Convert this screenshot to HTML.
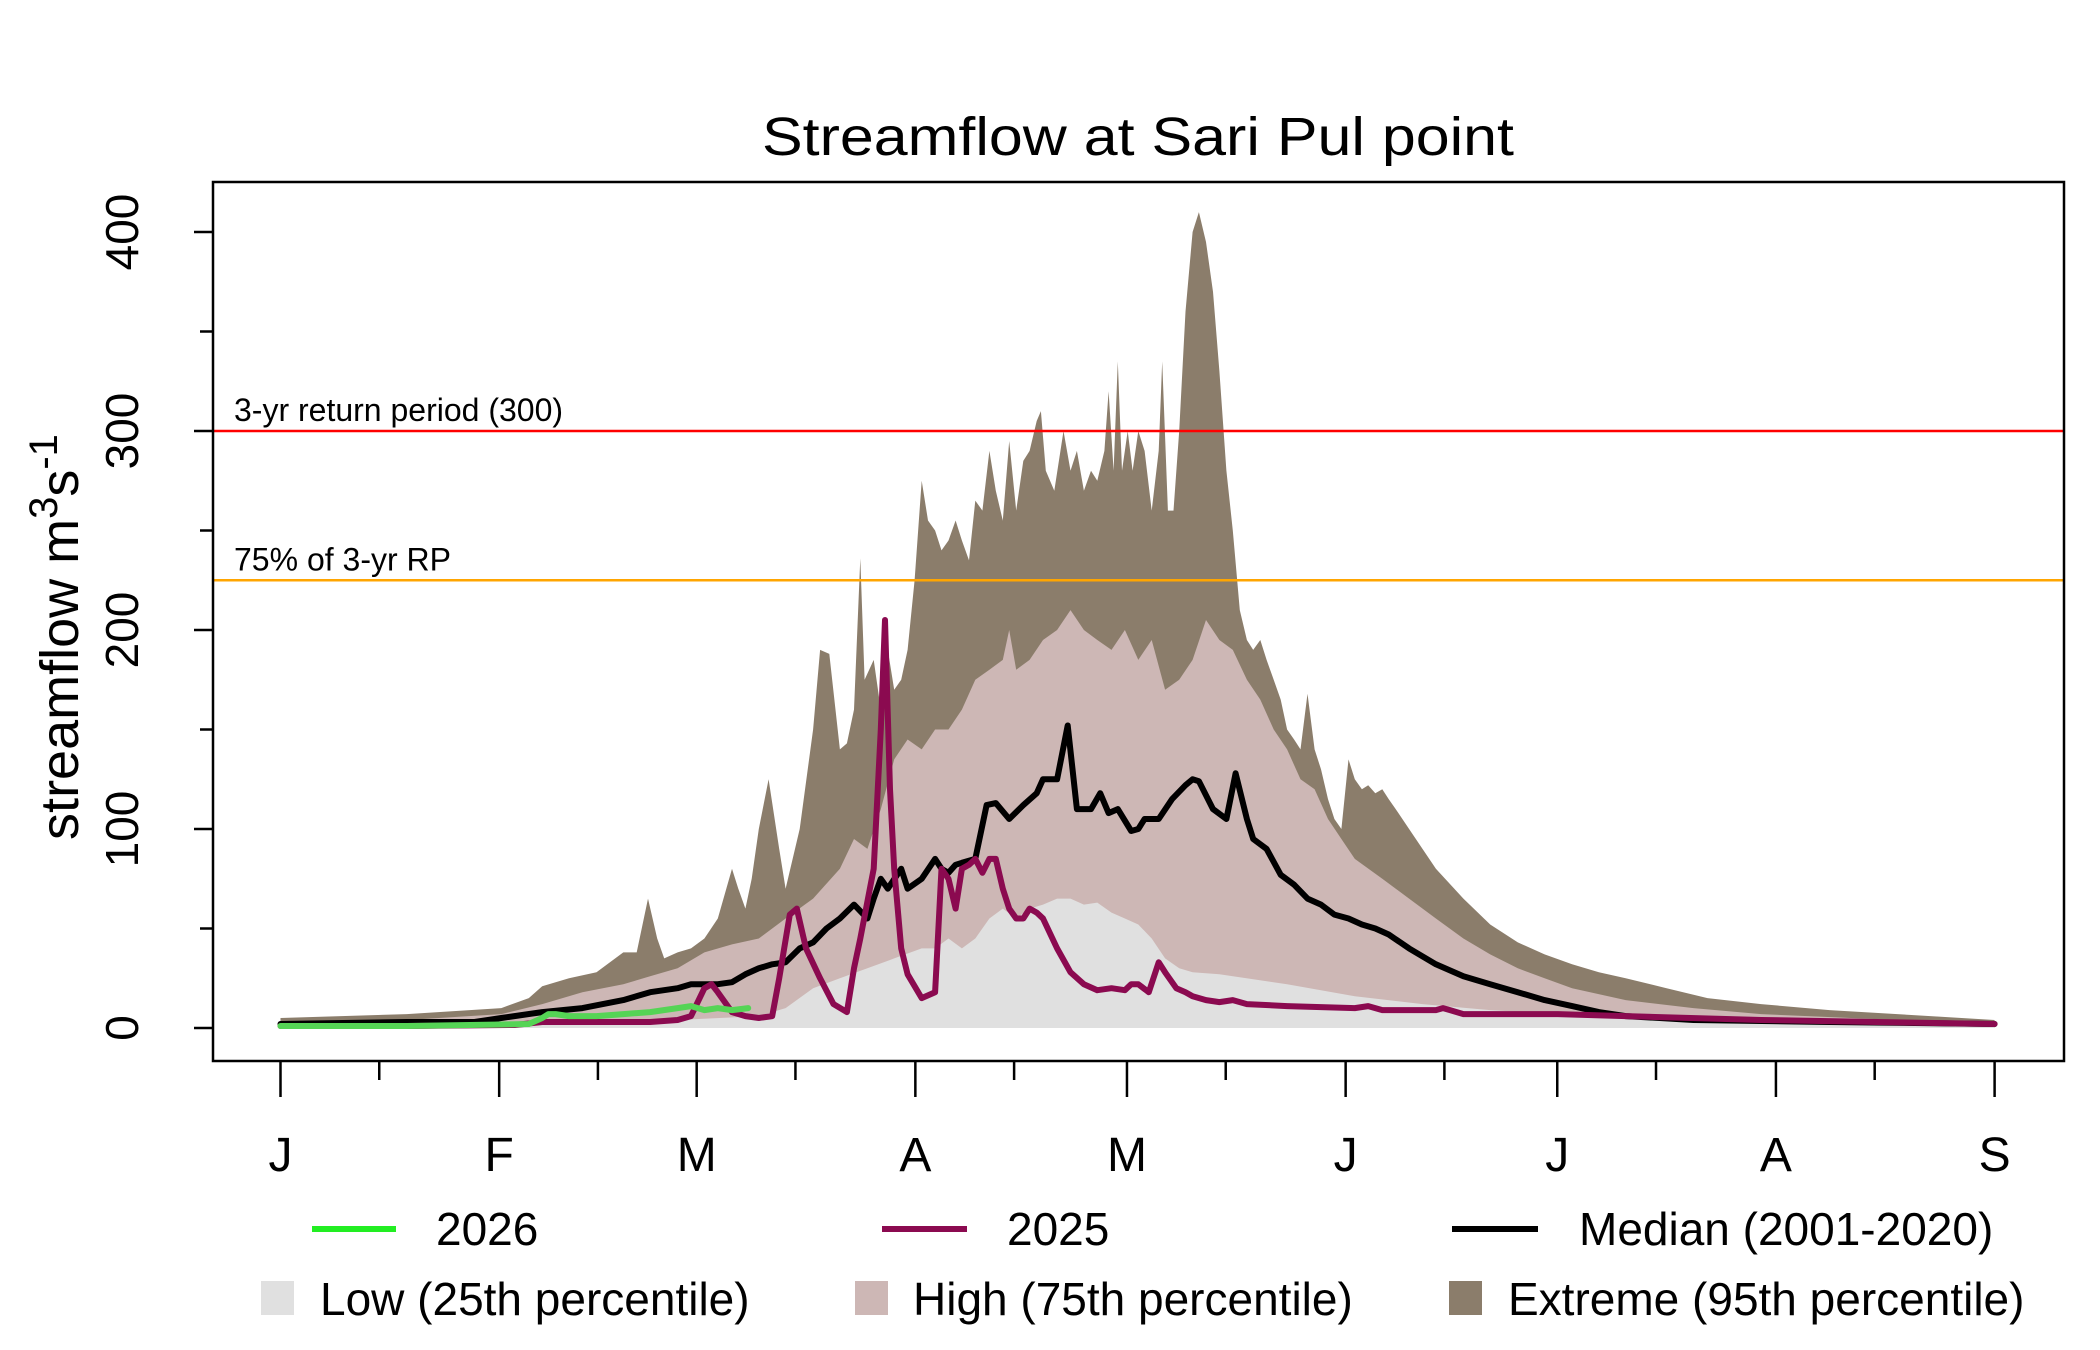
<!DOCTYPE html>
<html><head><meta charset="utf-8"><style>
html,body{margin:0;padding:0;background:#fff;}
svg{display:block;font-family:"Liberation Sans",sans-serif;}
</style></head><body>
<svg id="chart" width="2100" height="1350" viewBox="0 0 2100 1350" xmlns="http://www.w3.org/2000/svg">
<rect x="0" y="0" width="2100" height="1350" fill="#fff"/>
<text x="1138" y="155" font-size="54" text-anchor="middle" textLength="752" lengthAdjust="spacingAndGlyphs">Streamflow at Sari Pul point</text>
<g id="plot"></g>
<rect x="213" y="182" width="1851" height="879" fill="none" stroke="#000" stroke-width="2.5"/>
<g id="axes"></g>
<text transform="translate(78,637) rotate(-90)" font-size="54" text-anchor="middle">streamflow m<tspan dy="-21" font-size="40">3</tspan><tspan dy="21">s</tspan><tspan dy="-21" font-size="40">-1</tspan></text>
<g>
 <line x1="312" y1="1229" x2="396" y2="1229" stroke="#22ee22" stroke-width="6"/>
 <text x="436" y="1245" font-size="46">2026</text>
 <line x1="882" y1="1229" x2="967" y2="1229" stroke="#8B0A50" stroke-width="6"/>
 <text x="1007" y="1245" font-size="46">2025</text>
 <line x1="1452" y1="1229" x2="1538" y2="1229" stroke="#000" stroke-width="6"/>
 <text x="1579" y="1245" font-size="46">Median (2001-2020)</text>
 <rect x="261" y="1281" width="33" height="34" fill="#E0E0E0"/>
 <text x="320" y="1315" font-size="46">Low (25th percentile)</text>
 <rect x="855" y="1281" width="33" height="34" fill="#CDB7B5"/>
 <text x="913" y="1315" font-size="46">High (75th percentile)</text>
 <rect x="1449" y="1281" width="33" height="34" fill="#8B7D6B"/>
 <text x="1508" y="1315" font-size="46">Extreme (95th percentile)</text>
</g>
</svg>
<script>
const p95Days=[0,17.9,31.3,35.2,37.1,40.9,44.8,48.6,50.5,52.1,53.4,54.4,56.3,58.2,60.1,62.0,64.0,64.9,65.9,66.8,67.8,69.2,70.7,71.6,73.6,75.5,76.5,77.8,79.3,80.3,81.3,82.2,82.8,84.1,85.1,86.1,87.0,88.0,88.9,89.9,90.9,91.8,92.8,93.7,94.7,95.7,96.6,97.6,98.5,99.5,100.5,101.4,102.4,103.3,104.3,105.3,106.2,107.2,107.8,108.5,109.7,111.0,112.0,112.9,113.9,114.9,115.8,116.8,117.4,118.1,118.7,119.3,120.1,120.8,121.6,122.5,123.5,124.5,125.0,125.8,126.6,127.4,128.3,129.3,130.2,131.2,132.2,133.1,134.1,135.0,136.0,137.0,137.9,138.9,139.8,140.8,141.8,142.7,143.7,144.6,145.6,146.6,147.5,148.5,149.4,150.4,151.4,152.3,153.3,154.2,155.2,156.2,157.1,158.1,160.0,161.9,163.8,167.7,171.5,175.4,179.2,183.1,186.9,190.7,196.5,202.3,209.9,219.6,229.2,243];
const p95Vals=[5,7,10,15,21,25,28,38,38,65,45,35,38,40,45,55,80,70,60,75,100,125,90,70,100,150,190,188,140,143,160,236,175,185,160,190,170,175,190,225,275,255,250,240,245,255,245,235,265,260,290,270,255,295,260,285,290,305,310,280,270,300,280,290,270,280,275,290,320,280,335,280,300,280,300,290,260,290,335,260,260,300,360,400,410,395,370,330,280,250,210,195,190,195,185,175,165,150,145,140,168,140,130,115,105,100,135,125,120,122,118,120,115,110,100,90,80,65,52,43,37,32,28,25,20,15,12,9,7,4];
const p75Days=[0,17.9,31.3,37.1,42.8,48.6,52.4,56.3,60.1,64.0,67.8,71.6,75.5,79.3,81.3,83.2,85.1,87.0,88.9,90.9,92.8,94.7,96.6,98.5,100.5,102.4,103.3,104.3,106.2,108.1,110.1,112.0,113.9,115.8,117.8,119.7,121.6,123.5,125.4,127.4,129.3,131.2,133.1,135.0,137.0,138.9,140.8,142.7,144.6,146.6,148.5,150.4,152.3,156.2,160.0,163.8,167.7,171.5,175.4,179.2,183.1,190.7,200.3,209.9,229.2,243];
const p75Vals=[3,4,7,12,18,22,26,30,38,42,45,55,65,80,95,90,110,135,145,140,150,150,160,175,180,185,200,180,185,195,200,210,200,195,190,200,185,195,170,175,185,205,195,190,175,165,150,140,125,120,105,95,85,75,65,55,45,37,30,25,20,14,10,7,4,3];
const p25Days=[0,37.1,56.3,67.8,71.6,75.5,79.3,83.2,87.0,90.9,92.8,94.7,96.6,98.5,100.5,102.4,104.3,106.2,108.1,110.1,112.0,113.9,115.8,117.8,119.7,121.6,123.5,125.4,127.4,129.3,133.1,142.7,152.3,161.9,171.5,181.1,190.7,209.9,243];
const p25Vals=[1,2,4,6,10,20,25,30,35,40,40,45,40,45,55,60,55,60,62,65,65,62,63,58,55,52,45,35,30,28,27,22,16,12,9,7,5,3,2];
const medDays=[0,17.9,27.5,31.3,37.1,42.8,48.6,52.4,56.3,58.2,60.1,62.0,64.0,65.9,67.8,69.7,71.6,73.6,75.5,77.4,79.3,81.3,83.2,84.1,85.1,86.1,88.0,88.9,90.9,92.8,93.7,94.7,95.7,96.6,98.5,100.1,101.4,103.3,105.3,107.2,108.1,110.1,111.6,112.9,114.9,116.2,117.4,118.7,120.6,121.6,122.5,124.5,126.4,128.3,129.3,130.2,132.2,134.1,135.4,137.0,137.9,139.8,141.8,143.7,145.6,147.5,149.4,151.4,153.3,155.2,157.1,160.0,163.8,167.7,171.5,175.4,179.2,183.1,186.9,190.7,200.3,219.6,243];
const medVals=[2,3,3,5,8,10,14,18,20,22,22,22,23,27,30,32,33,40,43,50,55,62,55,65,75,70,80,70,75,85,80,78,82,83,85,112,113,105,112,118,125,125,152,110,110,118,108,110,99,100,105,105,115,122,125,124,110,105,128,105,95,90,77,72,65,62,57,55,52,50,47,40,32,26,22,18,14,11,8,6,4,3,2];
const y2025Days=[0,17.9,33.2,37.1,42.8,48.6,52.4,56.3,58.2,60.1,61.1,62.0,64.0,65.9,67.8,69.7,70.7,72.2,73.2,74.5,76.5,78.4,80.3,81.3,82.2,84.1,85.1,85.7,86.4,87.0,88.0,88.9,90.9,92.8,93.7,94.7,95.7,96.6,97.6,98.5,99.5,100.5,101.4,102.4,103.3,104.3,105.3,106.2,107.2,108.1,110.1,112.0,113.9,115.8,117.8,119.7,120.6,121.6,123.1,124.5,125.4,127.0,128.3,129.3,131.2,133.1,135.0,137.0,142.7,152.3,154.2,156.2,160.0,163.8,164.8,165.8,167.7,171.5,181.1,190.7,209.9,243];
const y2025Vals=[1,1,1.5,3,3,3,3,4,6,20,22,18,8,6,5,6,25,57,60,40,25,12,8,30,45,80,150,205,120,80,40,27,15,18,80,75,60,80,82,85,78,85,85,70,60,55,55,60,58,55,40,28,22,19,20,19,22,22,18,33,28,20,18,16,14,13,14,12,11,10,11,9,9,9,10,9,7,7,7,6,4,2];
const y2026Days=[0,17.9,35.2,37.1,38.0,39.0,40.9,44.8,48.6,52.4,56.3,58.2,60.1,62.0,64.0,66.3];
const y2026Vals=[1,1,2,5,7,7,6,6,7,8,10,11,9,10,9,10];
const yTicks=[0,100,200,300,400];
const yMinor=[50,150,250,350];
const monthStarts=[0,31,59,90,120,151,181,212,243];
const monthLabels=["J","F","M","A","M","J","J","A","S"];
const refValues=[300,225];
const refLabels=["3-yr return period (300)","75% of 3-yr RP"];
const refColors=["#FF0000","#FFA500"];

const NS="http://www.w3.org/2000/svg";
const X=d=>280.5+d*(1994.6-280.5)/243;
const Y=v=>1028-v*(1028-232)/400;
function mk(tag,attrs,parent){const e=document.createElementNS(NS,tag);for(const k in attrs)e.setAttribute(k,attrs[k]);parent.appendChild(e);return e;}
const plot=document.getElementById('plot');
const axes=document.getElementById('axes');
function band(days,vals,color,name){
  let d="M"+X(days[0])+","+Y(0);
  for(let i=0;i<days.length;i++)d+=" L"+X(days[i]).toFixed(1)+","+Y(vals[i]).toFixed(1);
  d+=" L"+X(days[days.length-1])+","+Y(0)+" Z";
  const e=mk('path',{d:d,fill:color,stroke:'none'},plot);
  
  
}
function line(days,vals,color,w,name){
  const pts=days.map((dd,i)=>X(dd).toFixed(1)+","+Y(vals[i]).toFixed(1)).join(" ");
  const e=mk('polyline',{points:pts,fill:'none',stroke:color,'stroke-width':w,'stroke-linejoin':'round','stroke-linecap':'round'},plot);
  
  
}
band(p95Days,p95Vals,'#8B7D6B','extreme-95th-band');
band(p75Days,p75Vals,'#CDB7B5','high-75th-band');
band(p25Days,p25Vals,'#E0E0E0','low-25th-band');
refValues.forEach((v,i)=>{
  const l=mk('line',{x1:213,x2:2064,y1:Y(v),y2:Y(v),stroke:refColors[i],'stroke-width':2.5},plot);
  
  
  const t=mk('text',{x:234,y:Y(v)-10,'font-size':32},plot);
  
  
  t.textContent=refLabels[i];
});
line(medDays,medVals,'#000',6,'median-line');
line(y2025Days,y2025Vals,'#8B0A50',6,'line-2025');
line(y2026Days,y2026Vals,'#55d455',6,'line-2026');
yTicks.forEach(v=>{
  const t=mk('line',{x1:194,x2:213,y1:Y(v),y2:Y(v),stroke:'#000','stroke-width':2.5},axes);
  
  
  const l=mk('text',{transform:`translate(138,${Y(v)}) rotate(-90)`,'font-size':46,'text-anchor':'middle'},axes);
  
  
  l.textContent=v;
});
yMinor.forEach(v=>{
  const t=mk('line',{x1:200,x2:213,y1:Y(v),y2:Y(v),stroke:'#000','stroke-width':2.5},axes);
  
  
});
monthStarts.forEach((d,i)=>{
  const t=mk('line',{x1:X(d),x2:X(d),y1:1061,y2:1097,stroke:'#000','stroke-width':2.5},axes);
  
  
  const l=mk('text',{x:X(d),y:1171,'font-size':48,'text-anchor':'middle'},axes);
  
  
  l.textContent=monthLabels[i];
  if(i<monthStarts.length-1){
    const m=mk('line',{x1:X(d+14),x2:X(d+14),y1:1061,y2:1080,stroke:'#000','stroke-width':2.5},axes);
    
    
  }
});
</script>
</body></html>
